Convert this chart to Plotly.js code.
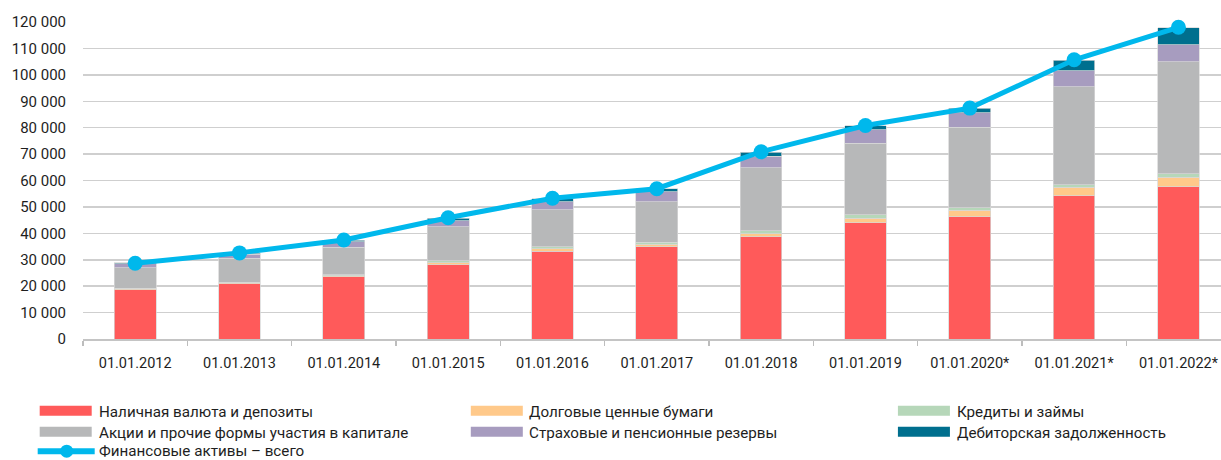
<!DOCTYPE html>
<html>
<head>
<meta charset="utf-8">
<script src="https://cdn.plot.ly/plotly-3.0.1.min.js"></script>
<style>
  html, body { margin: 0; padding: 0; background: #fff; }
  #chart { width: 1221px; height: 460px; }
</style>
</head>
<body>
<div id="chart"></div>
<script>
// ---- Data (in bln rubles) ----
const categories = ['01.01.2012', '01.01.2013', '01.01.2014', '01.01.2015', '01.01.2016',
  '01.01.2017', '01.01.2018', '01.01.2019', '01.01.2020*', '01.01.2021*', '01.01.2022*'];
const cashDeposits = [18700, 20950, 23600, 28150, 33300, 34950, 38650, 44050, 46300, 54150, 57600];
const debtSecurities = [300, 350, 400, 750, 900, 900, 1250, 1750, 2400, 3300, 3650];
const loans = [200, 200, 250, 650, 650, 750, 1000, 1300, 900, 1000, 1250];
const equity = [7700, 9050, 10500, 13000, 14000, 15300, 24000, 27000, 30550, 37000, 42400];
const insurance = [1600, 1500, 2100, 2250, 3150, 3800, 4300, 5150, 5550, 6050, 6550];
const receivables = [300, 400, 600, 1000, 1100, 1250, 1500, 1550, 1650, 4050, 6350];
const totalAssets = [28700, 32600, 37500, 45900, 53300, 56900, 70900, 80800, 87400, 105700, 118000];

const seriesNames = ['Наличная валюта и депозиты', 'Долговые ценные бумаги', 'Кредиты и займы',
  'Акции и прочие формы участия в капитале', 'Страховые и пенсионные резервы',
  'Дебиторская задолженность', 'Финансовые активы – всего'];
const yTickVals = [0, 10000, 20000, 30000, 40000, 50000, 60000, 70000, 80000, 90000, 100000, 110000, 120000];

// ---- Styles ----
const colors = ['#FF5A5A', '#FFC98A', '#B6D7B9', '#B7B8B9', '#A79CBF', '#006F8E', '#00B8EC'];
const FONT = 'Roboto, "Noto Sans", sans-serif';
const TXT = '#1e1e1e';

const barSeries = [cashDeposits, debtSecurities, loans, equity, insurance, receivables];
const traces = barSeries.map((vals, i) => ({
  type: 'bar',
  x: categories,
  y: vals,
  name: seriesNames[i],
  width: 0.4,
  marker: { color: colors[i], line: { color: 'rgba(215,215,215,0.9)', width: 0.8 } },
  showlegend: false,
  hoverinfo: 'y+name'
}));
traces.push({
  type: 'scatter',
  mode: 'lines+markers',
  x: categories,
  y: totalAssets,
  name: seriesNames[6],
  line: { color: colors[6], width: 5 },
  marker: { color: colors[6], size: 15 },
  showlegend: false,
  cliponaxis: false
});

// ---- Plot geometry (pixels) ----
const W = 1221, H = 460;
const L = 83.3, T = 22.3, B = 339.3; // plot left, top, bottom
const R = W;
const px = x => (x - L) / (R - L);
const py = y => (B - y) / (B - T);

// ---- Custom legend (wide swatches like the original) ----
const shapes = [];
const annotations = [];
const legendCols = [
  { sx0: 40, sx1: 92, tx: 97 },
  { sx0: 471, sx1: 523, tx: 527 },
  { sx0: 898, sx1: 950, tx: 955 }
];
const legendRows = [411, 432];
const legendOrder = [[0, 0, 0], [1, 0, 1], [2, 0, 2], [3, 1, 0], [4, 1, 1], [5, 1, 2]];
const LEG_SIZE = 15.2;
legendOrder.forEach(([si, r, c]) => {
  const col = legendCols[c];
  const yc = legendRows[r];
  shapes.push({
    type: 'rect', xref: 'paper', yref: 'paper',
    x0: px(col.sx0), x1: px(col.sx1), y0: py(yc + 5), y1: py(yc - 5),
    fillcolor: colors[si], line: { width: 0 }
  });
  annotations.push({
    xref: 'paper', yref: 'paper', x: px(col.tx), y: py(yc + 1.5),
    xanchor: 'left', yanchor: 'middle', showarrow: false,
    text: seriesNames[si], font: { family: FONT, size: LEG_SIZE, color: TXT }
  });
});
// line legend item
shapes.push({
  type: 'line', xref: 'paper', yref: 'paper',
  x0: px(38), x1: px(95), y0: py(451.5), y1: py(451.5),
  line: { color: colors[6], width: 6 }
});
shapes.push({
  type: 'circle', xref: 'paper', yref: 'paper',
  x0: px(60.5), x1: px(73.5), y0: py(458), y1: py(445),
  fillcolor: colors[6], line: { width: 0 }
});
annotations.push({
  xref: 'paper', yref: 'paper', x: px(97), y: py(451.5),
  xanchor: 'left', yanchor: 'middle', showarrow: false,
  text: seriesNames[6], font: { family: FONT, size: LEG_SIZE, color: TXT }
});

const boundaryTicks = [];
for (let i = 0; i <= categories.length; i++) boundaryTicks.push(i - 0.5);

const layout = {
  width: W, height: H,
  margin: { l: L, r: 0, t: T, b: H - B, pad: 0 },
  paper_bgcolor: '#ffffff',
  plot_bgcolor: '#ffffff',
  barmode: 'stack',
  separators: ', ',
  showlegend: false,
  font: { family: FONT, size: 15, color: TXT },
  xaxis: {
    type: 'category',
    range: [-0.5, 10.408],
    tickson: 'boundaries',
    tickangle: 0,
    ticks: 'outside', ticklen: 5, tickwidth: 1.2, tickcolor: '#bdbdbd',
    showline: true, linecolor: '#c4c4c4', linewidth: 1.5,
    showgrid: false, zeroline: false,
    tickfont: { family: FONT, size: 14.5, color: TXT },
    ticklabelstandoff: 10,
    automargin: false, fixedrange: true
  },
  xaxis2: {
    overlaying: 'x', anchor: 'y', side: 'bottom',
    range: [-0.5, 10.408],
    tickmode: 'array', tickvals: boundaryTicks,
    ticks: 'inside', ticklen: 5, tickwidth: 1.2, tickcolor: '#bdbdbd',
    showticklabels: false, showgrid: false, zeroline: false, showline: false,
    automargin: false, fixedrange: true
  },
  yaxis: {
    range: [0, 120000],
    tickmode: 'array', tickvals: yTickVals,
    tickformat: ',.0f',
    showgrid: true, gridcolor: '#cfcfcf', gridwidth: 1.5,
    zeroline: false, showline: false, ticks: '',
    tickfont: { family: FONT, size: 15, color: TXT },
    ticklabelstandoff: 16,
    automargin: false, fixedrange: true
  },
  shapes: shapes,
  annotations: annotations
};

Plotly.newPlot('chart', traces, layout, { displayModeBar: false, staticPlot: true });
</script>
</body>
</html>
